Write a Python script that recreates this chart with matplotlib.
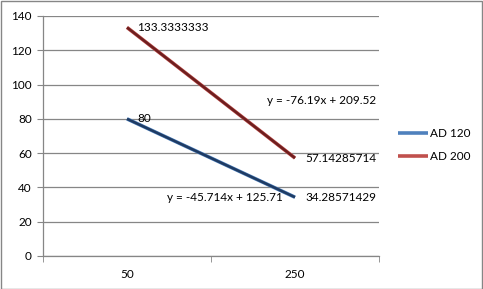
import numpy as np
import matplotlib
matplotlib.use("Agg")
import matplotlib.pyplot as plt
from matplotlib.patches import Rectangle

categories = ["50", "250"]
series_names = ["AD 120", "AD 200"]
ad120 = [80, 34.28571429]
ad200 = [133.3333333, 57.14285714]
yticks = [0, 20, 40, 60, 80, 100, 120, 140]

plt.rcParams['font.family'] = ['Lato', 'DejaVu Sans']

fig = plt.figure(figsize=(4.83, 2.89), dpi=100)
fig.patch.set_facecolor("white")
ax = fig.add_axes([43/483, 1-256/289, (379-43)/483, (256-16)/289])

x = np.arange(1, len(categories)+1)
light = ["#4F81BD", "#C0504D"]
dark = ["#1F3B63", "#6E1F1F"]
grey = "#868686"

for i, (vals, name) in enumerate(zip([ad120, ad200], series_names)):
    ax.plot(x, vals, color=light[i], lw=2.6, label=name, solid_capstyle="butt", zorder=3)
    m, b = np.polyfit(x, vals, 1)
    ax.plot(x, m*x + b, color=dark[i], lw=1.8, solid_capstyle="butt", zorder=4)

fs = 8.5
# data labels
ax.text(x[0] + 0.06, ad200[0], "133.3333333", fontsize=fs, va="center", ha="left", zorder=5)
ax.text(x[0] + 0.06, ad120[0] + 0.5, "80", fontsize=fs, va="center", ha="left", zorder=5)
ax.text(x[1] + 0.06, ad200[1], "57.14285714", fontsize=fs, va="center", ha="left", zorder=5)
ax.text(x[1] + 0.06, ad120[1], "34.28571429", fontsize=fs, va="center", ha="left", zorder=5)
# trendline equations
m2, b2 = np.polyfit(x, ad200, 1)
m1, b1 = np.polyfit(x, ad120, 1)
ax.text(2.48, 90.5, "y = %.2fx + %.2f" % (m2, b2), fontsize=fs, va="center", ha="right", zorder=5)
ax.text(1.93, 34.3, "y = %.3fx + %.2f" % (m1, b1), fontsize=fs, va="center", ha="right", zorder=5)

ax.set_xlim(0.5, len(categories) + 0.5)
ax.set_ylim(0, 140)
ax.set_yticks(yticks)
ax.set_yticklabels([str(t) for t in yticks], fontsize=fs)
ax.set_xticks(x)
ax.set_xticklabels(categories, fontsize=fs)
ax.set_xticks(np.arange(0.5, len(categories) + 1, 1), minor=True)
ax.tick_params(axis="x", which="major", length=0, pad=9)
ax.tick_params(axis="x", which="minor", length=4, color=grey, direction="out")
ax.tick_params(axis="y", length=4, color=grey, direction="out", pad=4)
ax.yaxis.grid(True, color=grey, lw=0.9)
ax.set_axisbelow(True)
for s in ["top", "right"]:
    ax.spines[s].set_visible(False)
for s in ["left", "bottom"]:
    ax.spines[s].set_color(grey)
    ax.spines[s].set_linewidth(0.9)

handles, labels = ax.get_legend_handles_labels()
fig.legend(handles, labels, loc="center left", bbox_to_anchor=(393/483, 1-145/289),
           frameon=False, fontsize=fs, handlelength=2.6, handletextpad=0.1,
           labelspacing=1.0, borderaxespad=0)

fig.add_artist(Rectangle((0.5/483, 0.5/289), 1-1.5/483, 1-1.5/289, transform=fig.transFigure,
                         fill=False, edgecolor=grey, lw=1))

fig.savefig("out.png", dpi=100, facecolor="white")
